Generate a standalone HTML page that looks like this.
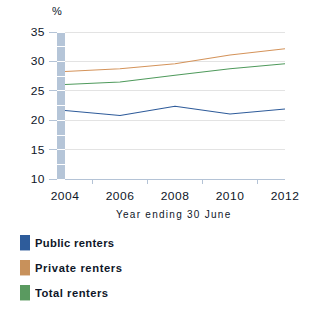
<!DOCTYPE html>
<html><head><meta charset="utf-8">
<style>
html,body{margin:0;padding:0;background:#fff;width:300px;height:310px;overflow:hidden;position:relative;}
body{font-family:"Liberation Sans",sans-serif;color:#0e1628;}
.t{position:absolute;font-size:10px;line-height:10px;white-space:nowrap;letter-spacing:1px;}
.yl{position:absolute;left:0;width:45px;text-align:right;font-size:10px;line-height:10px;letter-spacing:0.4px;transform:scaleX(1.2);transform-origin:100% 0;}
.xl{position:absolute;width:60px;text-align:center;font-size:10px;line-height:10px;letter-spacing:0.4px;transform:scaleX(1.2);transform-origin:50% 0;}
.lg{position:absolute;left:35px;font-size:10px;line-height:10px;font-weight:bold;white-space:nowrap;transform:scaleX(1.12);transform-origin:0 0;color:#0e1628;}
.sw{position:absolute;left:20px;width:10px;height:15px;}
svg{position:absolute;left:0;top:0;}
</style></head><body>
<svg width="300" height="310" viewBox="0 0 300 310">
  <!-- gridlines -->
  <g stroke="#e3e3e3" stroke-width="1">
    <line x1="65" y1="32.5" x2="285" y2="32.5"/>
    <line x1="65" y1="61.5" x2="285" y2="61.5"/>
    <line x1="65" y1="90.5" x2="285" y2="90.5"/>
    <line x1="65" y1="120.5" x2="285" y2="120.5"/>
    <line x1="65" y1="149.5" x2="285" y2="149.5"/>
  </g>
  <!-- y ticks -->
  <g stroke="#b4c3d6" stroke-width="1">
    <line x1="49" y1="32.5" x2="57" y2="32.5"/>
    <line x1="49" y1="61.5" x2="57" y2="61.5"/>
    <line x1="49" y1="90.5" x2="57" y2="90.5"/>
    <line x1="49" y1="120.5" x2="57" y2="120.5"/>
    <line x1="49" y1="149.5" x2="57" y2="149.5"/>
    <line x1="49" y1="179.5" x2="57" y2="179.5"/>
    <line x1="65" y1="179.5" x2="285" y2="179.5"/>
    <line x1="92.5" y1="179" x2="92.5" y2="184"/>
    <line x1="147.5" y1="179" x2="147.5" y2="184"/>
    <line x1="202.5" y1="179" x2="202.5" y2="184"/>
    <line x1="257.5" y1="179" x2="257.5" y2="184"/>
  </g>
  <!-- break bar -->
  <g fill="#b5c5d8">
    <rect x="57" y="33" width="8" height="13"/>
    <rect x="57" y="47" width="8" height="14"/>
    <rect x="57" y="62" width="8" height="14"/>
    <rect x="57" y="77" width="8" height="13"/>
    <rect x="57" y="91" width="8" height="14"/>
    <rect x="57" y="106" width="8" height="14"/>
    <rect x="57" y="121" width="8" height="14"/>
    <rect x="57" y="136" width="8" height="13"/>
    <rect x="57" y="150" width="8" height="14"/>
    <rect x="57" y="165" width="8" height="14"/>
  </g>
  <!-- series -->
  <g fill="none" stroke-width="1.1" stroke-linejoin="round">
    <polyline stroke="#d4935a" points="65,71.5 120,68.7 175,63.7 230,55 285,48.7"/>
    <polyline stroke="#4f9a5c" points="65,84.5 120,82 175,75.3 230,68.7 285,63.7"/>
    <polyline stroke="#2e5b9a" points="65,110.5 120,115.5 175,106.3 230,114 285,109"/>
  </g>
</svg>
<div class="t" style="left:52px;top:7px;letter-spacing:0;transform:scaleX(1.1);transform-origin:0 0;">%</div>
<div class="yl" style="top:28px;">35</div>
<div class="yl" style="top:57px;">30</div>
<div class="yl" style="top:87px;">25</div>
<div class="yl" style="top:116px;">20</div>
<div class="yl" style="top:146px;">15</div>
<div class="yl" style="top:175px;">10</div>
<div class="xl" style="left:35px;top:192px;">2004</div>
<div class="xl" style="left:90px;top:192px;">2006</div>
<div class="xl" style="left:145px;top:192px;">2008</div>
<div class="xl" style="left:200px;top:192px;">2010</div>
<div class="xl" style="left:255px;top:192px;">2012</div>
<div class="t" style="left:116px;top:209.5px;letter-spacing:1.27px;">Year ending 30 June</div>
<div class="sw" style="top:235px;background:#2e5c9b;box-shadow:0 1px 0 rgba(46,92,155,0.45);"></div>
<div class="sw" style="top:260px;background:#c8915b;box-shadow:0 1px 0 rgba(200,145,91,0.45);"></div>
<div class="sw" style="top:285px;background:#5a9a60;box-shadow:0 1px 0 rgba(90,154,96,0.45);"></div>
<div class="lg" style="top:239px;letter-spacing:0.3px;">Public renters</div>
<div class="lg" style="top:264px;letter-spacing:0.55px;">Private renters</div>
<div class="lg" style="top:289px;letter-spacing:0.45px;">Total renters</div>
</body></html>
